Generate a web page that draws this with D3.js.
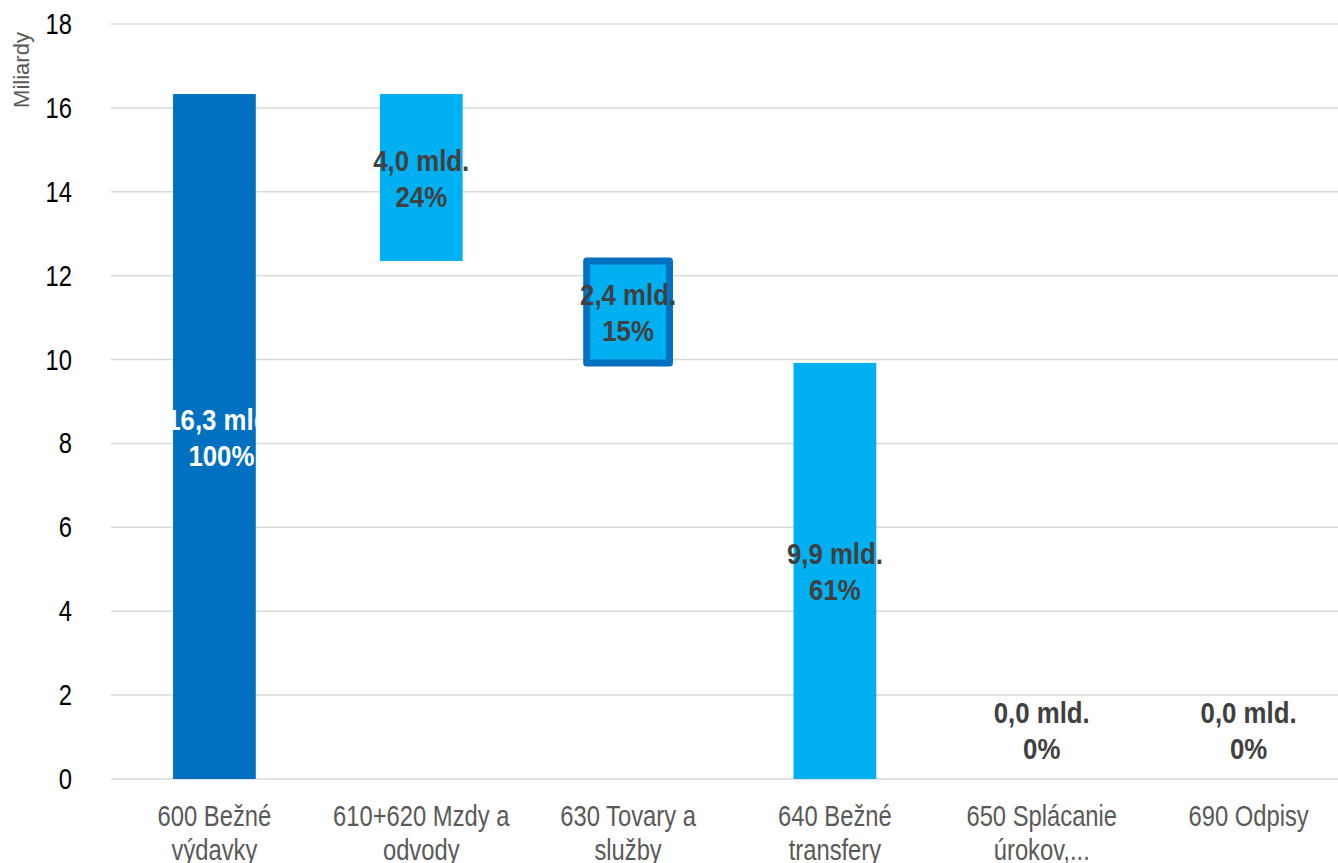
<!DOCTYPE html>
<html>
<head>
<meta charset="utf-8">
<script src="https://cdn.jsdelivr.net/npm/d3@7/dist/d3.min.js"></script>
<style>
  html, body { margin: 0; padding: 0; background: #fff; }
  svg { display: block; }
</style>
</head>
<body>
<div id="chart"></div>
<script>
// ---- Data ----
const categories = ["600 Bežné výdavky", "610+620 Mzdy a odvody", "630 Tovary a služby", "640 Bežné transfery", "650 Splácanie úrokov,...", "690 Odpisy"];
const categoryLines = [["600 Bežné", "výdavky"], ["610+620 Mzdy a", "odvody"], ["630 Tovary a", "služby"], ["640 Bežné", "transfery"], ["650 Splácanie", "úrokov,..."], ["690 Odpisy"]];
const values = [16.33, 3.98, 2.43, 9.92, 0.0, 0.0];
const isTotal = [true, false, false, false, false, false];
const highlighted = [false, false, true, false, false, false];
const yTicks = [0, 2, 4, 6, 8, 10, 12, 14, 16, 18];
const yTitle = "Miliardy";

// ---- Layout ----
const W = 1338, H = 863;
const plot = { left: 111, right: 1352, top: 24, bottom: 779 };
const FONT = "'Liberation Sans', Arial, sans-serif";
const NARROW = 0.82;      // horizontal condensing to mimic Arial Narrow
const NARROW_BOLD = 0.86;

const svg = d3.select("#chart").append("svg").attr("width", W).attr("height", H);

const x = d3.scaleBand().domain(categories).range([plot.left, plot.right]).paddingInner(0.6).paddingOuter(0.3);
const y = d3.scaleLinear().domain([0, 18]).range([plot.bottom, plot.top]);

// condensed text helper
function narrowText(parent, px, py, anchor, k) {
  return parent.append("g").attr("transform", `translate(${px},${py}) scale(${k || NARROW},1)`)
    .append("text").attr("text-anchor", anchor).attr("font-family", FONT);
}

// waterfall computation
const total = values[0];
let running = total;
const bars = categories.map((c, i) => {
  let lo, hi;
  if (isTotal[i]) { lo = 0; hi = values[i]; }
  else { hi = running; lo = running - values[i]; running = lo; }
  if (values[i] === 0) { lo = 0; hi = 0; }
  return { cat: c, i, lo, hi, v: values[i], pct: Math.round(values[i] / total * 100) };
});

// gridlines
svg.append("g").selectAll("line").data(yTicks).join("line")
  .attr("x1", plot.left).attr("x2", plot.right)
  .attr("y1", d => y(d)).attr("y2", d => y(d))
  .attr("stroke", "#D9D9D9").attr("stroke-width", 1.5);

// y tick labels
const gy = svg.append("g");
yTicks.forEach(t => {
  narrowText(gy, 72, y(t) + 10, "end").attr("font-size", 29).attr("fill", "#000").text(d3.format("d")(t));
});

// y title
svg.append("text").attr("transform", "translate(29,70) rotate(-90)")
  .attr("text-anchor", "middle").attr("font-family", FONT)
  .attr("font-size", 22).attr("fill", "#595959").text(yTitle);

// category labels
const gx = svg.append("g");
categories.forEach((c, i) => {
  const cx = x(c) + x.bandwidth() / 2;
  const t = narrowText(gx, cx, 826, "middle").attr("font-size", 29).attr("fill", "#595959");
  categoryLines[i].forEach((ln, k) => {
    t.append("tspan").attr("x", 0).attr("dy", k === 0 ? 0 : 34).text(ln);
  });
});

// clip paths per bar
const defs = svg.append("defs");
bars.forEach(b => {
  defs.append("clipPath").attr("id", "clip" + b.i).append("rect")
    .attr("x", x(b.cat)).attr("y", y(b.hi)).attr("width", x.bandwidth()).attr("height", y(b.lo) - y(b.hi));
});

// bars
svg.append("g").selectAll("rect").data(bars.filter(b => b.hi > b.lo)).join("rect")
  .attr("x", d => x(d.cat)).attr("y", d => y(d.hi))
  .attr("width", x.bandwidth()).attr("height", d => y(d.lo) - y(d.hi))
  .attr("fill", d => isTotal[d.i] ? "#0070C0" : "#00B0F0")
  .attr("stroke", d => highlighted[d.i] ? "#0070C0" : "none")
  .attr("stroke-width", d => highlighted[d.i] ? 7 : 0)
  .attr("stroke-linejoin", "round");

// data labels
const fmt = v => d3.format(".1f")(v).replace(".", ",");
bars.forEach(b => {
  const cx = x(b.cat) + x.bandwidth() / 2 + (isTotal[b.i] ? 7 : 0);
  const mid = b.hi > b.lo ? (y(b.hi) + y(b.lo)) / 2 : y(0) - 49;
  const holder = svg.append("g");
  if (isTotal[b.i]) holder.attr("clip-path", "url(#clip" + b.i + ")");
  const t = narrowText(holder, cx, mid - 7, "middle", NARROW_BOLD)
    .attr("font-size", 30).attr("font-weight", "bold")
    .attr("fill", isTotal[b.i] ? "#FFFFFF" : "#404040");
  t.append("tspan").attr("x", 0).text(fmt(b.v) + " mld.");
  t.append("tspan").attr("x", 0).attr("dy", 36).text(b.pct + "%");
});
</script>
</body>
</html>
